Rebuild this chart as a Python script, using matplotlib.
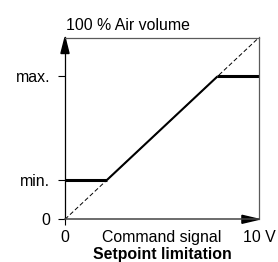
import matplotlib
matplotlib.use('Agg')
import matplotlib.pyplot as plt
from matplotlib.patches import Polygon

plt.rcParams['font.family'] = ['Liberation Sans', 'DejaVu Sans']

# ---- data --------------------------------------------------------------------
X_RANGE = [0, 10]           # command signal 0..10 V
Y_MIN, Y_MAX = 2.16, 7.86   # setpoint limits (min., max.)
Y_TICKS = [0, Y_MIN, Y_MAX]
Y_TICK_LABELS = ['0', 'min.', 'max.']
X_TICK_LABELS = ['0', '10 V']

# limited characteristic: flat at min, follow diagonal, flat at max
curve_x = [0, Y_MIN, Y_MAX, 10]
curve_y = [Y_MIN, Y_MIN, Y_MAX, Y_MAX]

FS = 11.4
GREY = '#5a5a5a'

fig = plt.figure(figsize=(2.78, 2.62), dpi=100)
ax = fig.add_axes([65 / 278, 42.7 / 262, 194 / 278, 181.8 / 262])
ax.set_xlim(X_RANGE)
ax.set_ylim(X_RANGE)

# dashed unlimited diagonal
ax.plot(X_RANGE, X_RANGE, color='black', lw=0.7, dashes=(4.5, 2.5))
# limited curve
ax.plot(curve_x[1:3], curve_y[1:3], color='black', lw=1.5, solid_capstyle='butt')
ax.plot(curve_x[:2], curve_y[:2], color='black', lw=2.2, solid_capstyle='butt')
ax.plot(curve_x[2:], curve_y[2:], color='black', lw=2.2, solid_capstyle='butt')

ax.spines['left'].set_linewidth(0.9)
ax.spines['left'].set_color('black')
for side in ['top', 'right']:
    ax.spines[side].set_linewidth(0.9)
    ax.spines[side].set_color(GREY)
ax.spines['bottom'].set_linewidth(1.1)
ax.spines['bottom'].set_color('#444444')

ax.set_yticks(Y_TICKS, Y_TICK_LABELS)
ax.tick_params(axis='y', direction='out', length=5, width=0.8, pad=5.5,
               labelsize=FS)
ax.set_xticks([0], [''])
ax.tick_params(axis='x', direction='out', length=4, width=0.8, color='black')

# x labels (baselines)
yb = -1.25
ax.text(X_RANGE[0], yb, X_TICK_LABELS[0], ha='center', va='baseline', fontsize=FS)
ax.text(X_RANGE[1], yb, X_TICK_LABELS[1], ha='center', va='baseline', fontsize=FS)
ax.text(5, yb, 'Command signal', ha='center', va='baseline', fontsize=FS)
ax.text(5, -2.19, 'Setpoint limitation', ha='center', va='baseline', fontsize=FS,
        fontweight='bold')
ax.text(0.05, 10.41, '100 % Air volume', ha='left', va='baseline', fontsize=FS)

# arrow heads
up = Polygon([[0, 1.0], [-0.021, 0.912], [0.021, 0.912]], closed=True,
             color='black', transform=ax.transAxes, clip_on=False)
right = Polygon([[1.0, 0.0], [0.912, 0.022], [0.912, -0.022]], closed=True,
                color='black', transform=ax.transAxes, clip_on=False)
ax.add_patch(up)
ax.add_patch(right)

fig.savefig('out.png', dpi=100)
